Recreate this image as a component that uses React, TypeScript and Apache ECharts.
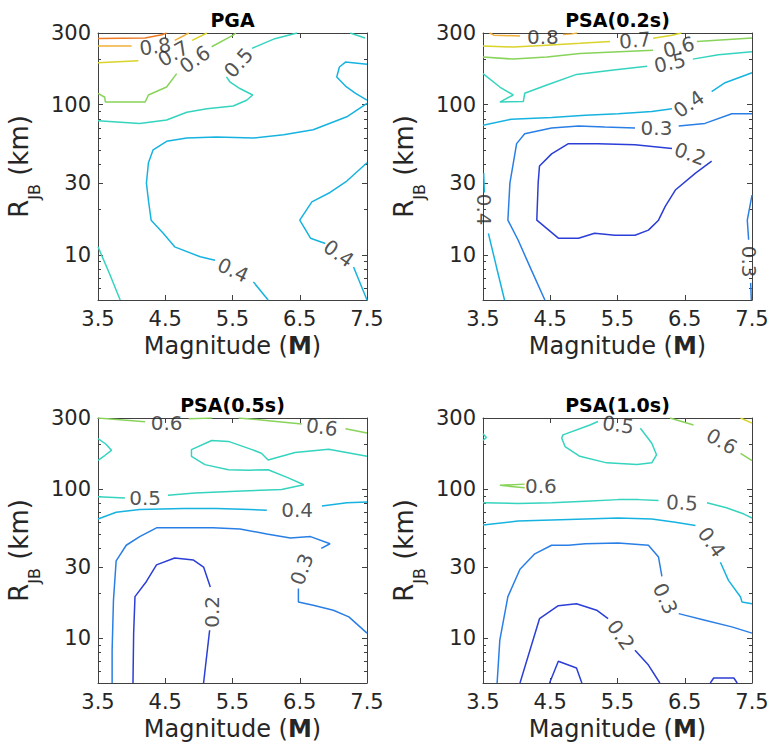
import React, { useEffect, useRef } from "react";
import * as echarts from "echarts";

type Pt = [number, number];
type Seg = { level: number; pts: Pt[] };
type Lbl = { level: number; at: Pt; rot: number };

// Contour level colours (parula-like)
const levelColors: Record<string, string> = {
  "0.2": "#2b3ed6",
  "0.3": "#2a7fe6",
  "0.4": "#17b3e0",
  "0.5": "#35d4be",
  "0.6": "#88d35a",
  "0.7": "#d9d32a",
  "0.8": "#f0b03a",
  "0.9": "#ee7b24",
};

const panelTitles = ["PGA", "PSA(0.2s)", "PSA(0.5s)", "PSA(1.0s)"];
const magTicks = [3.5, 4.5, 5.5, 6.5, 7.5];
const distTicks = [10, 30, 100, 300];
const distMinorTicks = [6, 7, 8, 9, 20, 40, 50, 60, 70, 80, 90, 200];

// ---- PGA ----
const pgaLines: Seg[] = [
  { level: 0.9, pts: [[3.5, 276], [4.2, 278], [4.45, 292], [4.52, 300]] },
  { level: 0.8, pts: [[3.5, 246], [4.0, 246]] },
  { level: 0.8, pts: [[4.64, 268], [4.79, 290], [4.85, 300]] },
  { level: 0.7, pts: [[3.5, 190], [4.1, 196]] },
  { level: 0.7, pts: [[4.9, 268], [5.12, 300]] },
  { level: 0.6, pts: [[3.5, 119], [3.6, 112], [3.61, 104], [4.2, 104], [4.25, 116], [4.52, 131], [4.67, 161]] },
  { level: 0.6, pts: [[5.19, 243], [5.51, 290], [5.55, 300]] },
  { level: 0.5, pts: [[3.5, 78], [4.12, 75], [4.52, 79], [4.82, 89], [5.12, 94], [5.51, 98], [5.71, 107], [5.8, 116], [5.61, 128], [5.46, 142], [5.41, 153]] },
  { level: 0.5, pts: [[5.79, 237], [6.13, 275], [6.46, 300]] },
  { level: 0.5, pts: [[7.25, 300], [7.47, 278]] },
  { level: 0.5, pts: [[3.5, 11.3], [3.67, 7.5], [3.83, 5]] },
  { level: 0.4, pts: [[7.5, 186], [7.18, 192], [7.09, 178], [7.05, 153], [7.18, 133], [7.33, 119], [7.5, 107]] },
  { level: 0.4, pts: [[6.03, 5], [5.81, 6.6]] },
  { level: 0.4, pts: [[5.24, 9.2], [5.02, 9.7], [4.64, 11.3], [4.47, 13.9], [4.29, 17], [4.25, 23], [4.22, 30], [4.25, 41], [4.32, 50], [4.52, 57], [4.82, 60], [5.26, 61], [5.81, 60], [6.26, 63], [6.7, 68], [7.2, 83], [7.5, 102]] },
  { level: 0.4, pts: [[7.5, 41], [7.2, 31], [6.95, 26], [6.68, 22.5], [6.5, 17], [6.66, 12.9], [6.88, 11.9]] },
  { level: 0.4, pts: [[7.3, 8.3], [7.5, 5]] },
];
const pgaLabels: Lbl[] = [
  { level: 0.8, at: [4.35, 244], rot: 8 },
  { level: 0.7, at: [4.62, 219], rot: 30 },
  { level: 0.6, at: [4.94, 200], rot: 35 },
  { level: 0.5, at: [5.59, 190], rot: 48 },
  { level: 0.4, at: [5.51, 7.9], rot: -25 },
  { level: 0.4, at: [7.08, 10.2], rot: -35 },
];

// ---- PSA(0.2s) ----
const psa02Lines: Seg[] = [
  { level: 0.8, pts: [[3.6, 300], [3.66, 290], [4.05, 287]] },
  { level: 0.8, pts: [[4.69, 293], [4.82, 296], [4.9, 300]] },
  { level: 0.7, pts: [[3.5, 246], [3.95, 242], [4.45, 249], [4.94, 256], [5.39, 263]] },
  { level: 0.7, pts: [[6.03, 277], [6.31, 290], [6.45, 300]] },
  { level: 0.6, pts: [[3.5, 208], [3.95, 201], [4.45, 208], [4.94, 219], [5.44, 224], [6.03, 230]] },
  { level: 0.6, pts: [[6.68, 263], [7.5, 278]] },
  { level: 0.5, pts: [[3.5, 161], [3.75, 131], [3.95, 116], [3.75, 104], [4.1, 105], [4.12, 119], [4.45, 135], [4.89, 159], [5.44, 170], [5.94, 180]] },
  { level: 0.5, pts: [[6.62, 201], [7.0, 215], [7.5, 225]] },
  { level: 0.4, pts: [[3.5, 73], [3.92, 80], [4.52, 82], [5.02, 85], [5.51, 87], [6.01, 90], [6.31, 94]] },
  { level: 0.4, pts: [[6.9, 122], [7.1, 140], [7.5, 163]] },
  { level: 0.4, pts: [[3.51, 35], [3.52, 26]] },
  { level: 0.4, pts: [[3.58, 13.9], [3.7, 8.3], [3.82, 5]] },
  { level: 0.3, pts: [[4.42, 5], [4.22, 7.9], [4.02, 12.6], [3.87, 17], [3.9, 30], [4.0, 55], [4.12, 64], [4.52, 70], [4.92, 72], [5.31, 71], [5.76, 70]] },
  { level: 0.3, pts: [[6.41, 72], [6.8, 75], [7.2, 87], [7.5, 87]] },
  { level: 0.3, pts: [[7.5, 25], [7.43, 17], [7.45, 12.6]] },
  { level: 0.3, pts: [[7.48, 6.5], [7.49, 5]] },
  { level: 0.2, pts: [[6.31, 51], [5.76, 54], [5.21, 55], [4.77, 55], [4.52, 47], [4.34, 39], [4.32, 30], [4.3, 17], [4.62, 12.9], [4.92, 12.9], [5.16, 13.9], [5.46, 13.5], [5.76, 13.5], [5.96, 14.6], [6.11, 17], [6.21, 21], [6.36, 27], [6.66, 35], [6.9, 42]] },
];
const psa02Labels: Lbl[] = [
  { level: 0.8, at: [4.39, 283], rot: 0 },
  { level: 0.7, at: [5.76, 268], rot: 5 },
  { level: 0.6, at: [6.41, 242], rot: 15 },
  { level: 0.5, at: [6.28, 190], rot: 12 },
  { level: 0.4, at: [6.56, 101], rot: 35 },
  { level: 0.4, at: [3.52, 20], rot: -90 },
  { level: 0.3, at: [6.08, 70], rot: 0 },
  { level: 0.3, at: [7.45, 9], rot: -90 },
  { level: 0.2, at: [6.58, 47], rot: -20 },
];

// ---- PSA(0.5s) ----
const psa05Lines: Seg[] = [
  { level: 0.6, pts: [[3.5, 300], [4.2, 283]] },
  { level: 0.6, pts: [[4.85, 297], [5.2, 300]] },
  { level: 0.6, pts: [[5.59, 300], [6.0, 289], [6.53, 273]] },
  { level: 0.6, pts: [[7.18, 254], [7.5, 238]] },
  { level: 0.5, pts: [[3.5, 218], [3.62, 200], [3.7, 182], [3.6, 168], [3.5, 156]] },
  { level: 0.5, pts: [[3.5, 89], [3.9, 87]] },
  { level: 0.5, pts: [[4.54, 91], [4.94, 94], [5.64, 97], [6.23, 99.5], [6.56, 107], [6.33, 119], [6.03, 135], [5.74, 134], [5.44, 135], [5.09, 146], [4.89, 166], [4.89, 184], [5.19, 212], [5.44, 209], [5.79, 184], [5.93, 174], [6.03, 157], [6.43, 176], [6.93, 185], [7.5, 166]] },
  { level: 0.4, pts: [[3.5, 63], [3.77, 70], [4.12, 73], [4.77, 74], [5.26, 74], [5.76, 73], [6.01, 72]] },
  { level: 0.4, pts: [[6.83, 77], [7.2, 81], [7.5, 82]] },
  { level: 0.3, pts: [[3.71, 5], [3.71, 8.3], [3.73, 18], [3.77, 33], [3.92, 42], [4.12, 48], [4.37, 55], [4.77, 55], [5.21, 55], [5.61, 54], [6.01, 50], [6.36, 47], [6.66, 48], [6.95, 43], [6.82, 40]] },
  { level: 0.3, pts: [[6.48, 21.5], [6.48, 17.5], [6.7, 16.6], [7.0, 15.4], [7.23, 13.9], [7.5, 10.8]] },
  { level: 0.2, pts: [[4.02, 5], [4.03, 10.8], [4.05, 19], [4.22, 24], [4.37, 31], [4.64, 34.5], [4.92, 33.4], [5.07, 30], [5.17, 22]] },
  { level: 0.2, pts: [[5.16, 11.3], [5.07, 5]] },
];
const psa05Labels: Lbl[] = [
  { level: 0.6, at: [4.52, 276], rot: 0 },
  { level: 0.6, at: [6.83, 261], rot: -8 },
  { level: 0.5, at: [4.2, 87], rot: 0 },
  { level: 0.4, at: [6.46, 72], rot: 0 },
  { level: 0.3, at: [6.53, 29], rot: 70 },
  { level: 0.2, at: [5.2, 15], rot: 90 },
];

// ---- PSA(1.0s) ----
const psa10Lines: Seg[] = [
  { level: 0.7, pts: [[7.33, 300], [7.5, 277]] },
  { level: 0.6, pts: [[6.28, 300], [6.63, 269]] },
  { level: 0.6, pts: [[7.33, 174], [7.5, 155]] },
  { level: 0.6, pts: [[4.12, 108], [3.75, 106], [4.12, 102]] },
  { level: 0.5, pts: [[5.84, 256], [6.01, 203], [6.08, 170], [6.01, 150], [5.79, 146], [5.34, 150], [4.94, 166], [4.72, 193], [4.67, 220], [4.69, 231], [5.09, 269], [5.21, 284]] },
  { level: 0.5, pts: [[3.5, 235], [3.55, 222], [3.5, 212]] },
  { level: 0.5, pts: [[3.5, 81], [4.02, 80], [4.52, 81], [5.02, 83], [5.51, 85], [5.81, 85], [6.11, 84]] },
  { level: 0.5, pts: [[6.83, 81], [7.12, 75], [7.38, 68], [7.5, 64]] },
  { level: 0.4, pts: [[3.5, 57.5], [4.02, 61], [4.52, 62], [5.02, 63], [5.51, 64], [6.01, 63], [6.36, 60], [6.66, 57]] },
  { level: 0.4, pts: [[7.03, 32.3], [7.15, 24.4], [7.33, 18.9], [7.35, 17.5], [7.5, 17]] },
  { level: 0.3, pts: [[3.71, 5], [3.75, 9.7], [3.87, 19], [4.05, 29], [4.27, 36.8], [4.52, 42], [4.77, 42], [5.02, 43], [5.51, 43.5], [5.96, 42], [6.11, 35], [6.16, 26]] },
  { level: 0.3, pts: [[6.41, 14.6], [6.8, 13.2], [7.2, 11.9], [7.5, 10.8]] },
  { level: 0.2, pts: [[4.05, 5], [4.34, 13.5], [4.62, 16.5], [4.89, 17], [5.19, 15.4], [5.36, 13.5]] },
  { level: 0.2, pts: [[5.76, 8.3], [5.96, 6.6], [6.13, 5]] },
  { level: 0.2, pts: [[4.49, 5], [4.62, 7.0], [4.89, 6.3], [4.97, 5]] },
  { level: 0.2, pts: [[6.88, 5], [6.93, 5.4], [7.23, 5.4], [7.28, 5]] },
];
const psa10Labels: Lbl[] = [
  { level: 0.5, at: [5.51, 270], rot: -8 },
  { level: 0.6, at: [7.05, 209], rot: -30 },
  { level: 0.6, at: [4.36, 105], rot: 0 },
  { level: 0.5, at: [6.46, 81], rot: -3 },
  { level: 0.4, at: [6.9, 44], rot: -55 },
  { level: 0.3, at: [6.21, 18.4], rot: -65 },
  { level: 0.2, at: [5.55, 10.5], rot: -55 },
];

const panelLines = [pgaLines, psa02Lines, psa05Lines, psa10Lines];
const panelLabels = [pgaLabels, psa02Labels, psa05Labels, psa10Labels];

const FONT = "DejaVu Sans";
const INK = "#262626";
const BOX = "#404040";

// plot-box geometry of the 2x2 layout
const boxes = [
  { left: 98, top: 33, width: 269, height: 267 },
  { left: 483, top: 33, width: 269, height: 267 },
  { left: 98, top: 418, width: 269, height: 265 },
  { left: 483, top: 418, width: 269, height: 265 },
];

function buildOption() {
  const grid: any[] = [];
  const xAxis: any[] = [];
  const yAxis: any[] = [];
  const series: any[] = [];
  const graphic: any[] = [];

  boxes.forEach((b, i) => {
    grid.push({ left: b.left, top: b.top, width: b.width, height: b.height, containLabel: false, outerBoundsMode: "none" });

    const xBase = {
      gridIndex: i,
      type: "value",
      min: 3.5,
      max: 7.5,
      splitLine: { show: false },
      axisLine: { show: true, onZero: false, lineStyle: { color: BOX, width: 1 } },
      axisTick: { show: true, inside: true, length: 5, customValues: magTicks, lineStyle: { color: BOX } },
    };
    xAxis.push({
      ...xBase,
      position: "bottom",
      axisLabel: {
        show: true,
        customValues: magTicks,
        formatter: (v: number) => v.toFixed(1),
        fontSize: 21,
        lineHeight: 18,
        fontFamily: FONT,
        color: INK,
        margin: 10,
      },
    });
    xAxis.push({ ...xBase, position: "top", axisLabel: { show: false } });

    const yBase = {
      gridIndex: i,
      type: "log",
      logBase: 10,
      min: 5,
      max: 300,
      splitLine: { show: false },
      minorTick: { show: false },
    };
    yAxis.push({
      ...yBase,
      position: "left",
      axisLine: { show: true, onZero: false, lineStyle: { color: BOX, width: 1 } },
      axisTick: { show: true, inside: true, length: 5, customValues: distTicks, lineStyle: { color: BOX } },
      axisLabel: {
        show: true,
        customValues: distTicks,
        formatter: (v: number) => String(Math.round(v)),
        fontSize: 21,
        lineHeight: 18,
        fontFamily: FONT,
        color: INK,
        margin: 7,
      },
    });
    yAxis.push({
      ...yBase,
      position: "right",
      axisLine: { show: true, onZero: false, lineStyle: { color: BOX, width: 1 } },
      axisTick: { show: true, inside: true, length: 5, customValues: distTicks, lineStyle: { color: BOX } },
      axisLabel: { show: false },
    });
    yAxis.push({
      ...yBase,
      position: "left",
      axisLine: { show: false },
      axisTick: { show: true, inside: true, length: 3, customValues: distMinorTicks, lineStyle: { color: BOX } },
      axisLabel: { show: false },
    });
    yAxis.push({
      ...yBase,
      position: "right",
      axisLine: { show: false },
      axisTick: { show: true, inside: true, length: 3, customValues: distMinorTicks, lineStyle: { color: BOX } },
      axisLabel: { show: false },
    });

    panelLines[i].forEach((seg) => {
      series.push({
        type: "line",
        xAxisIndex: i * 2,
        yAxisIndex: i * 4,
        data: seg.pts,
        symbol: "none",
        showSymbol: false,
        silent: true,
        smooth: false,
        lineStyle: { color: levelColors[seg.level.toFixed(1)], width: 1.5 },
        z: 2,
      });
    });

    series.push({
      type: "scatter",
      xAxisIndex: i * 2,
      yAxisIndex: i * 4,
      symbolSize: 0,
      silent: true,
      z: 5,
      data: panelLabels[i].map((l) => ({
        value: [l.at[0], l.at[1], l.level],
        label: { rotate: l.rot },
      })),
      label: {
        show: true,
        position: "inside",
        formatter: (p: any) => Number(p.value[2]).toFixed(1),
        fontSize: 20,
        fontFamily: FONT,
        color: INK,
      },
    });

    const cx = b.left + b.width / 2;
    const cy = b.top + b.height / 2;
    const bottom = b.top + b.height;

    graphic.push({
      type: "text",
      x: cx,
      y: b.top - 13,
      silent: true,
      style: {
        text: panelTitles[i],
        fontFamily: FONT,
        fontSize: 19,
        fontWeight: "bold",
        fill: "#000",
        align: "center",
        verticalAlign: "middle",
      },
    });
    graphic.push({
      type: "text",
      x: cx,
      y: bottom + 46,
      silent: true,
      style: {
        text: "Magnitude ({b|M})",
        fontFamily: FONT,
        fontSize: 24,
        lineHeight: 24,
        fill: INK,
        align: "center",
        verticalAlign: "middle",
        rich: { b: { fontFamily: FONT, fontSize: 24, lineHeight: 24, fontWeight: "bold", fill: INK } },
      },
    });
    // R_JB (km), read bottom-to-top, with a dropped subscript
    graphic.push({
      type: "text",
      x: b.left - 76,
      y: cy,
      rotation: Math.PI / 2,
      silent: true,
      style: {
        text: "{r|R}{s|JB}{r| (km)}",
        fontFamily: FONT,
        fontSize: 26,
        fill: INK,
        align: "center",
        verticalAlign: "middle",
        rich: {
          r: { fontFamily: FONT, fontSize: 26, fill: INK, lineHeight: 32, verticalAlign: "top" },
          s: { fontFamily: FONT, fontSize: 16, fill: INK, lineHeight: 16, verticalAlign: "top", padding: [20, 0, 0, 0] },
        },
      },
    });
  });

  return {
    animation: false,
    backgroundColor: "#ffffff",
    grid,
    xAxis,
    yAxis,
    series,
    graphic,
  };
}

export default function App() {
  const ref = useRef<HTMLDivElement>(null);
  useEffect(() => {
    if (!ref.current) return;
    const chart = echarts.init(ref.current, undefined, { renderer: "svg" });
    chart.setOption(buildOption() as any);
    return () => chart.dispose();
  }, []);
  return (
    <div
      ref={ref}
      style={{ position: "absolute", left: 0, top: 0, width: 770, height: 756, background: "#fff" }}
    />
  );
}
